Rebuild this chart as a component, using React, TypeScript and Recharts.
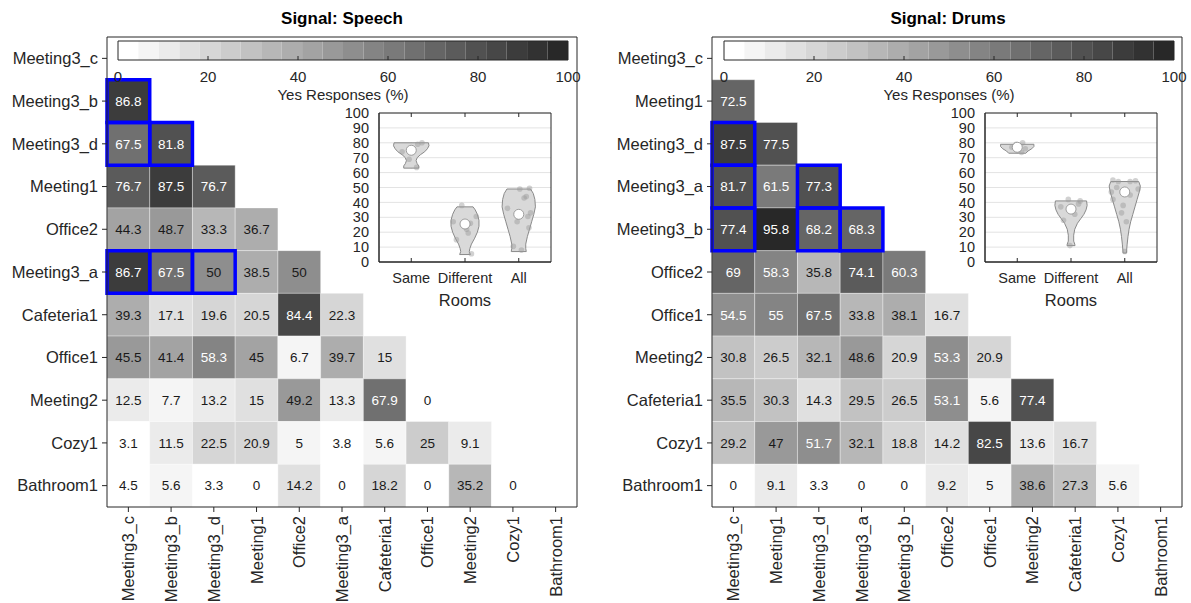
import React from "react";
import { CartesianGrid, ComposedChart, ReferenceArea, ReferenceLine, Scatter, XAxis, YAxis } from "recharts";

const FONT = '"Liberation Sans", Arial, Helvetica, sans-serif';
const AXIS = "#262626";

// ---- heatmap data (strict lower triangle, row i has i values) ----
const speechRooms = ["Meeting3_c", "Meeting3_b", "Meeting3_d", "Meeting1", "Office2", "Meeting3_a", "Cafeteria1", "Office1", "Meeting2", "Cozy1", "Bathroom1"];
const speechValues: number[][] = [
  [],
  [86.8],
  [67.5, 81.8],
  [76.7, 87.5, 76.7],
  [44.3, 48.7, 33.3, 36.7],
  [86.7, 67.5, 50, 38.5, 50],
  [39.3, 17.1, 19.6, 20.5, 84.4, 22.3],
  [45.5, 41.4, 58.3, 45, 6.7, 39.7, 15],
  [12.5, 7.7, 13.2, 15, 49.2, 13.3, 67.9, 0],
  [3.1, 11.5, 22.5, 20.9, 5, 3.8, 5.6, 25, 9.1],
  [4.5, 5.6, 3.3, 0, 14.2, 0, 18.2, 0, 35.2, 0],
];
const speechSameRoom: [number, number][] = [[1, 0], [2, 0], [2, 1], [5, 0], [5, 1], [5, 2]];

const drumsRooms = ["Meeting3_c", "Meeting1", "Meeting3_d", "Meeting3_a", "Meeting3_b", "Office2", "Office1", "Meeting2", "Cafeteria1", "Cozy1", "Bathroom1"];
const drumsValues: number[][] = [
  [],
  [72.5],
  [87.5, 77.5],
  [81.7, 61.5, 77.3],
  [77.4, 95.8, 68.2, 68.3],
  [69, 58.3, 35.8, 74.1, 60.3],
  [54.5, 55, 67.5, 33.8, 38.1, 16.7],
  [30.8, 26.5, 32.1, 48.6, 20.9, 53.3, 20.9],
  [35.5, 30.3, 14.3, 29.5, 26.5, 53.1, 5.6, 77.4],
  [29.2, 47, 51.7, 32.1, 18.8, 14.2, 82.5, 13.6, 16.7],
  [0, 9.1, 3.3, 0, 0, 9.2, 5, 38.6, 27.3, 5.6],
];
const drumsSameRoom: [number, number][] = [[2, 0], [3, 0], [3, 2], [4, 0], [4, 2], [4, 3]];

// ---- colorbar ----
const cbLevels = 22;
const cbTicks = [0, 20, 40, 60, 80, 100];

// ---- violin insets: [y, half width] outlines, top to bottom ----
const violinGroups = ["Same", "Different", "All"];
const violinTicks = [0, 10, 20, 30, 40, 50, 60, 70, 80, 90, 100];

const speechViolins: [number, number][][] = [
  [[80, 0.32], [78, 0.33], [76, 0.3], [74, 0.25], [72, 0.17], [70, 0.11], [68, 0.09], [66, 0.11], [64.5, 0.14], [63, 0.14]],
  [[37, 0.15], [35, 0.19], [32, 0.23], [28, 0.26], [24, 0.26], [20, 0.23], [16, 0.18], [12, 0.12], [9, 0.09], [7, 0.08], [5, 0.1]],
  [[49, 0.22], [46, 0.27], [42, 0.3], [37, 0.31], [32, 0.28], [27, 0.24], [22, 0.2], [17, 0.16], [12, 0.13], [9, 0.13], [7, 0.14]],
];
const speechMedians = [75, 25.5, 32];
const speechBoxes: [number, number][] = [[70, 78], [15, 27], [22, 44]];
const speechWhiskers: [number, number][] = [[63, 80], [5, 37], [7, 49]];
const speechDots: [number, number, number][] = [
  [0, -0.17, 74], [0, 0.1, 63.5], [0, 0.2, 80], [0, 0.12, 79], [0, 0.02, 76], [0, -0.04, 69],
  [1, -0.06, 38], [1, -0.22, 27], [1, -0.16, 15], [1, 0.06, 19.5], [1, 0.21, 30.5], [1, 0.12, 5.5], [1, 0.1, 26], [1, 0.03, 22],
  [2, 0.02, 49], [2, 0.2, 49.5], [2, -0.21, 36], [2, 0.14, 44], [2, 0.17, 30.5], [2, 0.22, 33], [2, 0.19, 23], [2, 0.05, 8], [2, -0.1, 10.5], [2, 0.1, 43], [2, -0.03, 27],
];

const drumsViolins: [number, number][][] = [
  [[79, 0.31], [77.5, 0.31], [76, 0.27], [74.5, 0.2], [73, 0.16]],
  [[41, 0.29], [38, 0.3], [35, 0.28], [32, 0.24], [29, 0.18], [26, 0.12], [22, 0.07], [18, 0.05], [14, 0.05], [12, 0.07], [11, 0.075]],
  [[54, 0.26], [51, 0.29], [47, 0.27], [42, 0.23], [37, 0.19], [32, 0.15], [27, 0.11], [22, 0.08], [17, 0.06], [12, 0.045], [8, 0.035], [6, 0.03]],
];
const drumsMedians = [77, 35.5, 47];
const drumsBoxes: [number, number][] = [[74, 78], [28, 40], [32, 52]];
const drumsWhiskers: [number, number][] = [[73, 79], [11, 41], [6, 54]];
const drumsDots: [number, number, number][] = [
  [0, 0.1, 80], [0, 0.15, 76], [0, -0.02, 79], [0, 0.08, 73.5], [0, -0.1, 77],
  [1, -0.19, 37], [1, -0.05, 42], [1, 0.14, 39], [1, 0.07, 32], [1, -0.14, 28], [1, -0.02, 11], [1, 0.17, 41], [1, 0.04, 36],
  [2, -0.22, 55], [2, -0.12, 54], [2, 0.1, 54], [2, 0.2, 54.5], [2, 0.25, 49], [2, -0.25, 47], [2, -0.22, 42], [2, -0.03, 38], [2, -0.06, 33], [2, 0.03, 27], [2, 0, 7], [2, 0.1, 45], [2, -0.15, 50],
];

function grayFor(v: number) {
  const bin = Math.min(cbLevels - 1, Math.floor((v / 100) * cbLevels));
  const g = Math.round(255 - (215 * bin) / (cbLevels - 1));
  return `rgb(${g},${g},${g})`;
}

const noMark = () => <g />;

function RotTick(props: any) {
  const { x, y, payload, rooms } = props;
  return (
    <text x={x} y={y} transform={`rotate(-90, ${x}, ${y})`} textAnchor="end" dominantBaseline="central" fontSize={16.5} fill={AXIS}>
      {rooms[payload.value]}
    </text>
  );
}

function Heatmap({ rooms, values, same }: { rooms: string[]; values: number[][]; same: [number, number][] }) {
  const idx = rooms.map((_, i) => i);
  const cells = values.flatMap((row, r) => row.map((v, c) => ({ r, c, v })));
  return (
    <ComposedChart width={600} height={603} margin={{ top: 30, right: 13, bottom: 6, left: 7 }}>
      <XAxis dataKey="c" type="number" domain={[-0.5, 10.5]} ticks={idx} interval={0} height={90} tickSize={5} tickMargin={4}
        stroke={AXIS} tick={(p: any) => <RotTick {...p} rooms={rooms} />} />
      <XAxis xAxisId="t" dataKey="c" orientation="top" type="number" domain={[-0.5, 10.5]} ticks={idx} interval={0} height={7} tickSize={5}
        stroke={AXIS} tick={false} />
      <YAxis dataKey="r" type="number" domain={[-0.5, 10.5]} ticks={idx} interval={0} reversed width={100} tickSize={5} tickMargin={4}
        stroke={AXIS} tick={{ fontSize: 16.5, fill: AXIS }} tickFormatter={(i: number) => rooms[i]} />
      <YAxis yAxisId="r" dataKey="r" orientation="right" type="number" domain={[-0.5, 10.5]} ticks={idx} interval={0} reversed width={10} tickSize={5}
        stroke={AXIS} tick={false} />
      <Scatter data={cells} isAnimationActive={false} shape={noMark} />
      <Scatter data={cells} xAxisId="t" yAxisId="r" isAnimationActive={false} shape={noMark} />
      {cells.map(({ r, c, v }) => (
        <ReferenceArea key={`c${r}-${c}`} x1={c - 0.5} x2={c + 0.5} y1={r - 0.5} y2={r + 0.5} ifOverflow="visible"
          fill={grayFor(v)} fillOpacity={1} stroke="#ffffff" strokeOpacity={0.35}
          label={{ value: String(v), position: "center", fill: v > 50 ? "#ffffff" : "#1a1a1a", fontSize: 13.5 }} />
      ))}
      {same.map(([r, c]) => (
        <ReferenceArea key={`s${r}-${c}`} x1={c - 0.5} x2={c + 0.5} y1={r - 0.5} y2={r + 0.5} ifOverflow="visible"
          fill="none" fillOpacity={0} stroke="#0000ff" strokeWidth={3.5} />
      ))}
    </ComposedChart>
  );
}

function CbTick(props: any) {
  const { x, y, payload } = props;
  const v = payload.value;
  return (
    <g>
      {v > 0 && v < 100 && <line x1={x} x2={x} y1={y - 4} y2={y} stroke={AXIS} />}
      <text x={x} y={y + 16} textAnchor="middle" dominantBaseline="central" fontSize={15} fill={AXIS}>{v}</text>
    </g>
  );
}

function ColorBar({ left }: { left: number }) {
  const levels = Array.from({ length: cbLevels }, (_, i) => ({ i, x: ((i + 0.5) * 100) / cbLevels, y: 0.5 }));
  return (
    <div style={{ position: "absolute", left, top: 30 }}>
      <ComposedChart width={490} height={80} margin={{ top: 11, right: 22, bottom: 10, left: 18 }}>
        <XAxis dataKey="x" type="number" domain={[0, 100]} ticks={cbTicks} interval={0} tickSize={0} tickMargin={0} axisLine={false} tickLine={false}
          height={40} tick={CbTick}
          label={{ value: "Yes Responses (%)", position: "insideBottom", offset: 0, fontSize: 15, fill: AXIS }} />
        <YAxis dataKey="y" type="number" domain={[0, 1]} hide />
        <Scatter data={levels} isAnimationActive={false} shape={noMark} />
        {levels.map(({ i }) => (
          <ReferenceArea key={i} x1={(i * 100) / cbLevels} x2={((i + 1) * 100) / cbLevels} y1={0} y2={1}
            fill={grayFor(((i + 0.5) * 100) / cbLevels)} fillOpacity={1} />
        ))}
        <ReferenceArea x1={0} x2={100} y1={0} y2={1} fill="none" fillOpacity={0} stroke={AXIS} strokeWidth={1} />
      </ComposedChart>
    </div>
  );
}

function InsetTick(props: any) {
  const { x, y, payload } = props;
  return (
    <g>
      <line x1={x} x2={x} y1={y} y2={y - 4} stroke={AXIS} />
      <line x1={x} x2={x} y1={y - 149} y2={y - 145} stroke={AXIS} />
      <text x={x} y={y + 16} textAnchor="middle" dominantBaseline="central" fontSize={14.5} fill={AXIS}>
        {violinGroups[payload.value - 1]}
      </text>
    </g>
  );
}

function Inset({ left, violins, medians, boxes, whiskers, dots }: {
  left: number; violins: [number, number][][]; medians: number[]; boxes: [number, number][];
  whiskers: [number, number][]; dots: [number, number, number][];
}) {
  const polys = violins.map((shape, g) => {
    const c = g + 1;
    const right = shape.map(([y, hw]) => ({ x: c + hw, y }));
    const leftSide = shape.slice().reverse().map(([y, hw]) => ({ x: c - hw, y }));
    return [...right, ...leftSide, right[0]];
  });
  const dotData = dots.map(([g, dx, y]) => ({ x: g + 1 + dx, y }));
  const medData = medians.map((y, g) => ({ x: g + 1, y }));
  return (
    <div style={{ position: "absolute", left, top: 100 }}>
      <ComposedChart width={230} height={215} margin={{ top: 13, right: 9, bottom: 0, left: 9 }}>
        <CartesianGrid vertical={false} stroke="#e3e3e3" />
        <XAxis type="number" dataKey="x" domain={[0.4, 3.6]} ticks={[1, 2, 3]} interval={0} tickSize={0} tickMargin={0}
          height={53} stroke={AXIS} tickLine={false} tick={InsetTick}
          label={{ value: "Rooms", position: "insideBottom", offset: 9, fontSize: 16.5, fill: AXIS }} />
        <YAxis type="number" dataKey="y" domain={[0, 100]} ticks={violinTicks} interval={0} width={40} tickLine={false} tickMargin={4}
          stroke={AXIS} tick={{ fontSize: 14.5, fill: AXIS }} />
        <ReferenceArea x1={0.4} x2={3.6} y1={0} y2={100} fill="none" fillOpacity={0} stroke={AXIS} strokeWidth={1} />
        {polys.map((pts, g) => (
          <Scatter key={`v${g}`} data={pts} isAnimationActive={false} shape={noMark}
            line={{ fill: "#d9d9d9", stroke: "#8a8a8a", strokeWidth: 1 }} />
        ))}
        <Scatter data={dotData} isAnimationActive={false}
          shape={(p: any) => <circle cx={p.cx} cy={p.cy} r={2.8} fill="#9a9a9a" fillOpacity={0.45} />} />
        {whiskers.map(([lo, hi], g) => (
          <ReferenceLine key={`w${g}`} segment={[{ x: g + 1, y: lo }, { x: g + 1, y: hi }]} stroke="#777777" strokeWidth={1} />
        ))}
        {boxes.map(([lo, hi], g) => (
          <ReferenceLine key={`b${g}`} segment={[{ x: g + 1, y: lo }, { x: g + 1, y: hi }]} stroke="#6e6e6e" strokeWidth={3} />
        ))}
        <Scatter data={medData} isAnimationActive={false}
          shape={(p: any) => <circle cx={p.cx} cy={p.cy} r={5} fill="#ffffff" stroke="#8a8a8a" strokeWidth={0.8} />} />
      </ComposedChart>
    </div>
  );
}

function Title({ text, center }: { text: string; center: number }) {
  return (
    <div style={{ position: "absolute", left: center - 150, top: 9, width: 300, textAlign: "center", fontWeight: "bold", fontSize: 17, color: "#000" }}>
      {text}
    </div>
  );
}

export default function App() {
  return (
    <div style={{ position: "absolute", left: 0, top: 0, width: 1191, height: 603, background: "#ffffff", fontFamily: FONT, overflow: "hidden" }}>
      <div style={{ position: "absolute", left: 0, top: 0 }}>
        <Heatmap rooms={speechRooms} values={speechValues} same={speechSameRoom} />
      </div>
      <div style={{ position: "absolute", left: 605, top: 0 }}>
        <Heatmap rooms={drumsRooms} values={drumsValues} same={drumsSameRoom} />
      </div>
      <ColorBar left={100} />
      <ColorBar left={706} />
      <Inset left={330} violins={speechViolins} medians={speechMedians} boxes={speechBoxes} whiskers={speechWhiskers} dots={speechDots} />
      <Inset left={936} violins={drumsViolins} medians={drumsMedians} boxes={drumsBoxes} whiskers={drumsWhiskers} dots={drumsDots} />
      <Title text="Signal: Speech" center={342} />
      <Title text="Signal: Drums" center={948} />
    </div>
  );
}
